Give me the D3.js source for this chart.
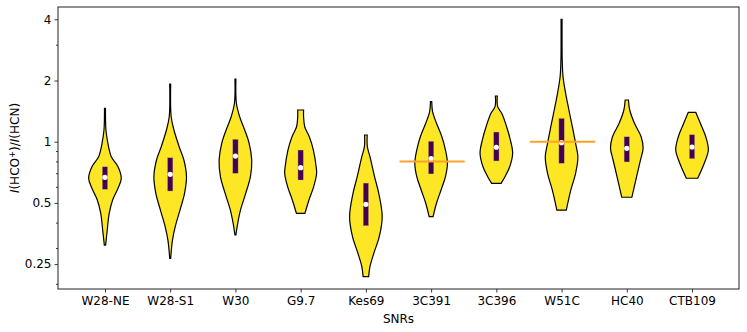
<!DOCTYPE html>
<html>
<head>
<meta charset="utf-8">
<script src="https://cdn.jsdelivr.net/npm/d3@7"></script>
<style>
  html, body { margin: 0; padding: 0; background: #ffffff; }
  svg { display: block; }
  text { font-family: "DejaVu Sans", sans-serif; }
</style>
</head>
<body>
<svg id="chart" width="747" height="332"></svg>
<script>
// ---- Data ----
const categories = ["W28-NE", "W28-S1", "W30", "G9.7", "Kes69", "3C391", "3C396", "W51C", "HC40", "CTB109"];

// violin outlines: [ratio value, relative half-width (1 = widest)]
const profileW28NE = [[1.46,0.03],[1.142,0.06],[0.982,0.18],[0.844,0.39],[0.753,0.80],[0.661,1.00],[0.590,0.80],[0.517,0.47],[0.444,0.26],[0.368,0.14],[0.31,0.04]];
const profileW28S1 = [[1.922,0.03],[1.327,0.06],[1.142,0.23],[0.945,0.55],[0.813,0.84],[0.673,1.00],[0.557,0.88],[0.461,0.60],[0.382,0.31],[0.328,0.14],[0.267,0.03]];
const profileW30   = [[2.034,0.03],[1.545,0.06],[1.327,0.26],[1.142,0.57],[0.982,0.84],[0.813,1.00],[0.673,0.92],[0.557,0.63],[0.461,0.31],[0.397,0.14],[0.348,0.03]];
const profileG97   = [[1.432,0.18],[1.327,0.18],[1.185,0.25],[1.058,0.53],[0.910,0.78],[0.753,0.95],[0.699,0.98],[0.601,0.80],[0.517,0.51],[0.444,0.26]];
const profileKes69 = [[1.079,0.08],[0.945,0.09],[0.844,0.25],[0.673,0.53],[0.557,0.79],[0.428,1.00],[0.341,0.82],[0.283,0.49],[0.243,0.25],[0.217,0.17]];
const profile3C391 = [[1.573,0.04],[1.405,0.09],[1.232,0.33],[1.058,0.66],[0.910,0.88],[0.783,1.00],[0.673,0.88],[0.579,0.61],[0.498,0.33],[0.428,0.12]];
const profile3C396 = [[1.678,0.06],[1.487,0.08],[1.380,0.33],[1.185,0.63],[1.019,0.86],[0.877,1.00],[0.753,0.82],[0.673,0.53],[0.624,0.29]];
const profileW51C  = [[4.0,0.03],[3.2,0.03],[2.523,0.04],[2.088,0.09],[1.730,0.25],[1.432,0.45],[1.185,0.66],[0.982,0.86],[0.844,1.00],[0.699,0.86],[0.579,0.57],[0.461,0.29]];
const profileHC40  = [[1.604,0.10],[1.432,0.18],[1.232,0.47],[1.058,0.88],[0.928,1.00],[0.813,0.84],[0.673,0.60],[0.533,0.31]];
const profileCTB109= [[1.395,0.23],[1.232,0.51],[1.058,0.84],[0.910,1.00],[0.783,0.75],[0.661,0.35]];
const profiles = [profileW28NE, profileW28S1, profileW30, profileG97, profileKes69, profile3C391, profile3C396, profileW51C, profileHC40, profileCTB109];

const q1Values     = [0.583, 0.572, 0.699, 0.648, 0.386, 0.694, 0.804, 0.783, 0.795, 0.825];
const q3Values     = [0.753, 0.834, 1.028, 0.910, 0.626, 1.005, 1.116, 1.303, 1.058, 1.083];
const medianValues = [0.668, 0.691, 0.850, 0.745, 0.492, 0.825, 0.939, 0.989, 0.928, 0.942];

const refCategories = ["3C391", "W51C"];
const refValues     = [0.8, 1.0];

const yMajorTicks = [0.25, 0.5, 1, 2, 4];
const yMinorTicks = [0.2, 0.3, 0.4, 0.6, 0.7, 0.8, 0.9, 3];
const yDomain = [0.1886, 4.598];

// ---- Layout ----
const svg = d3.select("#chart");
const plot = { left: 58, right: 739, top: 7, bottom: 289 };

const x = d3.scalePoint().domain(categories).range([plot.left, plot.right]).padding(0.72);
const y = d3.scaleLog().domain(yDomain).range([plot.bottom, plot.top]);
const halfMax = x.step() * 0.25;

const g = svg.append("g");

// violins
const area = d3.area()
  .curve(d3.curveCatmullRom.alpha(0.5))
  .y(d => y(d[0]));

categories.forEach((c, i) => {
  const cx = x(c);
  g.append("path")
    .datum(profiles[i])
    .attr("d", area.x0(d => cx - d[1] * halfMax).x1(d => cx + d[1] * halfMax))
    .attr("fill", "#fde725")
    .attr("stroke", "#000")
    .attr("stroke-width", 1.2);
});

// inner boxes
g.selectAll("rect.box").data(categories).join("rect")
  .attr("class", "box")
  .attr("x", c => x(c) - 2.7)
  .attr("width", 5.4)
  .attr("y", (c, i) => y(q3Values[i]))
  .attr("height", (c, i) => y(q1Values[i]) - y(q3Values[i]))
  .attr("fill", "#440154")
  .attr("stroke", "#c9b46a")
  .attr("stroke-width", 0.4);

// medians
g.selectAll("circle.med").data(categories).join("circle")
  .attr("class", "med")
  .attr("cx", c => x(c))
  .attr("cy", (c, i) => y(medianValues[i]))
  .attr("r", 2.6)
  .attr("fill", "#ffffff");

// reference lines
refCategories.forEach((c, i) => {
  g.append("line")
    .attr("x1", x(c) - x.step() / 2 + 1)
    .attr("x2", x(c) + x.step() / 2 + 1)
    .attr("y1", y(refValues[i]))
    .attr("y2", y(refValues[i]))
    .attr("stroke", "#ffa02a")
    .attr("stroke-width", 2);
});

// axes
const yAxis = d3.axisLeft(y).tickValues(yMajorTicks).tickFormat(d => String(d)).tickSize(3.5).tickPadding(3);
const yAxisMinor = d3.axisLeft(y).tickValues(yMinorTicks).tickFormat("").tickSize(2);
const xAxis = d3.axisBottom(x).tickSize(3.5).tickPadding(4);

const ya = svg.append("g").attr("transform", `translate(${plot.left},0)`).call(yAxis);
const ym = svg.append("g").attr("transform", `translate(${plot.left},0)`).call(yAxisMinor);
const xa = svg.append("g").attr("transform", `translate(0,${plot.bottom})`).call(xAxis);
[ya, ym, xa].forEach(a => {
  a.select(".domain").remove();
  a.selectAll("line").attr("stroke", "#222").attr("stroke-width", 0.9);
  a.selectAll("text").attr("font-family", "DejaVu Sans").attr("font-size", 12).attr("fill", "#000");
});

// frame
svg.append("rect")
  .attr("x", plot.left).attr("y", plot.top)
  .attr("width", plot.right - plot.left).attr("height", plot.bottom - plot.top)
  .attr("fill", "none").attr("stroke", "#222").attr("stroke-width", 1);

// axis labels
svg.append("text")
  .attr("x", (plot.left + plot.right) / 2).attr("y", 323)
  .attr("text-anchor", "middle").attr("font-size", 12).text("SNRs");

const yl = svg.append("text")
  .attr("transform", `translate(19,${(plot.top + plot.bottom) / 2}) rotate(-90)`)
  .attr("text-anchor", "middle").attr("font-size", 12);
yl.append("tspan").attr("font-style", "italic").text("I");
yl.append("tspan").text("(HCO");
yl.append("tspan").attr("font-size", 8.5).attr("dy", -4.5).text("+");
yl.append("tspan").attr("dy", 4.5).text(")/");
yl.append("tspan").attr("font-style", "italic").text("I");
yl.append("tspan").text("(HCN)");
</script>
</body>
</html>
